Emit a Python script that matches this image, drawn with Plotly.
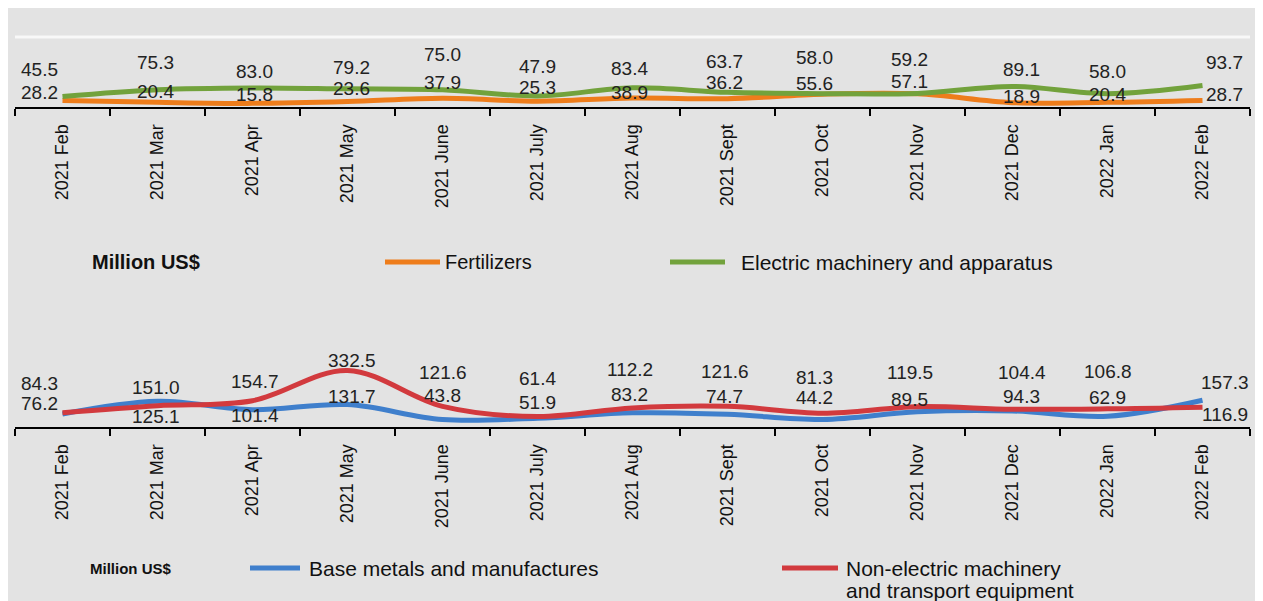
import plotly.graph_objects as go

months = ['2021 Feb', '2021 Mar', '2021 Apr', '2021 May', '2021 June',
          '2021 July', '2021 Aug', '2021 Sept', '2021 Oct', '2021 Nov',
          '2021 Dec', '2022 Jan', '2022 Feb']

fertilizers = [28.2, 20.4, 15.8, 23.6, 37.9, 25.3, 38.9, 36.2, 55.6, 57.1, 18.9, 20.4, 28.7]
electric = [45.5, 75.3, 83.0, 79.2, 75.0, 47.9, 83.4, 63.7, 58.0, 59.2, 89.1, 58.0, 93.7]
base_metals = [76.2, 151.0, 101.4, 131.7, 43.8, 51.9, 83.2, 74.7, 44.2, 89.5, 94.3, 62.9, 157.3]
non_electric = [84.3, 125.1, 154.7, 332.5, 121.6, 61.4, 112.2, 121.6, 81.3, 119.5, 104.4, 106.8, 116.9]

# label placement (pixels above the axis line), the source staggers them by hand
top_hi_shift = [37, 44, 35, 39, 52, 40, 38, 45, 49, 47, 37, 35, 44]
top_lo_shift = [14, 15, 12, 18, 24, 19, 14, 24, 23, 25, 10, 12, 12]
bot_hi_shift = [43, 39, 45, 66, 54, 48, 57, 55, 49, 54, 54, 55, 44]
bot_lo_shift = [23, 10, 11, 30, 31, 24, 32, 30, 29, 27, 30, 29, 12]
x_shift = [-23, -2, 2, 4, 0, 0, -3, -3, -8, -8, 9, 0, 22]

ORANGE = '#ee7d1b'
GREEN = '#72a23c'
BLUE = '#3f7fcc'
RED = '#d23a3e'
FONT = 'Liberation Sans, Arial, sans-serif'
W, H = 1263, 601
PAGE = 8  # the page's body margin, measured positions below are screen pixels


def px(x):
    return (x - PAGE) / W


def py(y):
    return 1 - (y - PAGE) / H


fig = go.Figure()
fig.add_trace(go.Scatter(x=months, y=fertilizers, name='Fertilizers', mode='lines',
                         line=dict(color=ORANGE, width=5, shape='spline'),
                         xaxis='x', yaxis='y'))
fig.add_trace(go.Scatter(x=months, y=electric, name='Electric machinery and apparatus', mode='lines',
                         line=dict(color=GREEN, width=5, shape='spline'),
                         xaxis='x', yaxis='y'))
fig.add_trace(go.Scatter(x=months, y=base_metals, name='Base metals and manufactures', mode='lines',
                         line=dict(color=BLUE, width=5, shape='spline'),
                         xaxis='x2', yaxis='y2'))
fig.add_trace(go.Scatter(x=months, y=non_electric,
                         name='Non-electric machinery and transport equipment', mode='lines',
                         line=dict(color=RED, width=5, shape='spline'),
                         xaxis='x2', yaxis='y2'))
fig.update_traces(showlegend=False, hoverinfo='x+y+name')

label_font = dict(size=19, color='#222222', family=FONT)
annotations = []
for i, m in enumerate(months):
    hi = max(electric[i], fertilizers[i])
    lo = min(electric[i], fertilizers[i])
    for val, sh in [(hi, top_hi_shift[i]), (lo, top_lo_shift[i])]:
        annotations.append(dict(x=m, y=0, xref='x', yref='y', text=f'{val:.1f}',
                                yshift=sh, xshift=x_shift[i], font=label_font))
    hi = max(base_metals[i], non_electric[i])
    lo = min(base_metals[i], non_electric[i])
    for val, sh in [(hi, bot_hi_shift[i]), (lo, bot_lo_shift[i])]:
        annotations.append(dict(x=m, y=0, xref='x2', yref='y2', text=f'{val:.1f}',
                                yshift=sh, xshift=x_shift[i], font=label_font))

# hand-drawn legend rows, as in the source
legend_font = dict(size=21, color='#111111', family=FONT)
annotations += [
    dict(x=px(90), y=py(262), text='<b>Million US$</b>', xanchor='left',
         font=dict(size=20, color='#111111', family=FONT)),
    dict(x=px(443), y=py(262), text='Fertilizers', xanchor='left',
         font=dict(size=20, color='#111111', family=FONT)),
    dict(x=px(739), y=py(262), text='Electric machinery and apparatus', xanchor='left', font=legend_font),
    dict(x=px(88), y=py(568), text='<b>Million US$</b>', xanchor='left',
         font=dict(size=15, color='#111111', family=FONT)),
    dict(x=px(307), y=py(568), text='Base metals and manufactures', xanchor='left', font=legend_font),
    dict(x=px(844), y=py(568), text='Non-electric machinery', xanchor='left', font=legend_font),
    dict(x=px(844), y=py(590), text='and transport equipment', xanchor='left', font=legend_font),
]
for a in annotations:
    a.setdefault('xref', 'paper')
    a.setdefault('yref', 'paper')
    a['yanchor'] = 'middle'
    a['showarrow'] = False

shapes = [dict(type='line', xref='paper', yref='paper', x0=px(15), x1=px(1250),
               y0=py(37), y1=py(37), line=dict(color='#f8f8f8', width=3), layer='below')]
for color, x0, x1, y in [(ORANGE, 385, 440, 262), (GREEN, 670, 725, 262),
                         (BLUE, 250, 300, 568), (RED, 782, 838, 568)]:
    shapes.append(dict(type='line', xref='paper', yref='paper', x0=px(x0), x1=px(x1),
                       y0=py(y), y1=py(y), line=dict(color=color, width=5)))

xaxis_style = dict(type='category', range=[-0.5, 12.5], tickson='boundaries',
                   ticks='outside', ticklen=7, tickwidth=2, tickcolor='black',
                   showline=True, linecolor='black', linewidth=2, ticklabelstandoff=8,
                   showgrid=False, zeroline=False, tickangle=-90,
                   tickfont=dict(size=18, color='#111111', family=FONT), fixedrange=True)
yaxis_style = dict(visible=False, showgrid=False, zeroline=False, fixedrange=True)

fig.update_layout(
    width=W, height=H,
    margin=dict(l=0, r=0, t=0, b=0),
    paper_bgcolor='#e3e3e3', plot_bgcolor='rgba(0,0,0,0)',
    font=dict(family=FONT),
    xaxis=dict(domain=[px(15), px(1250)], anchor='y', **xaxis_style),
    yaxis=dict(domain=[py(107), py(38)], range=[0, 300], anchor='x', **yaxis_style),
    xaxis2=dict(domain=[px(15), px(1250)], anchor='y2', **xaxis_style),
    yaxis2=dict(domain=[py(427), py(342)], range=[0, 500], anchor='x2', **yaxis_style),
    annotations=annotations,
    shapes=shapes,
)

fig.write_html('out.html')
